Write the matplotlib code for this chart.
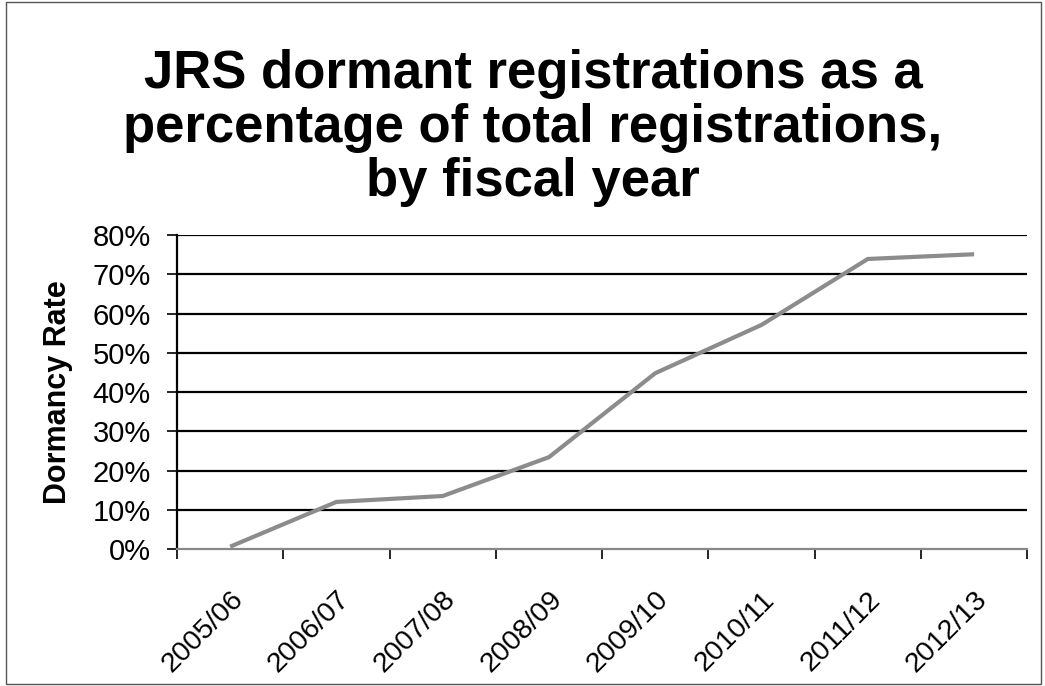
import numpy as np
import matplotlib.pyplot as plt
from matplotlib.patches import Rectangle

plt.rcParams['font.family'] = ['Liberation Sans', 'DejaVu Sans']

years = ['2005/06', '2006/07', '2007/08', '2008/09',
         '2009/10', '2010/11', '2011/12', '2012/13']
dormancy = [0.6, 12.0, 13.5, 23.4, 44.8, 57.1, 73.9, 75.1]

fig = plt.figure(figsize=(10.45, 6.86), dpi=100)
ax = fig.add_axes([0.1694, 0.1997, 0.8136, 0.4577])

x = np.arange(len(years))
ax.plot(x, dormancy, color='#8c8c8c', lw=3, solid_capstyle='butt')

ax.set_xlim(-0.5, len(years) - 0.5)
ax.set_ylim(0, 80)
ax.set_yticks(np.arange(0, 81, 10))
ax.set_yticklabels(['%d%%' % v for v in range(0, 81, 10)], fontsize=21)
for v in range(10, 81, 10):
    ax.axhline(v, color='black', lw=1.6, zorder=0)

ax.set_xticks(x)
ax.set_xticklabels(years, fontsize=20.5, rotation=45, ha='right',
                   rotation_mode='anchor')
ax.set_xticks(np.arange(-0.5, len(years)), minor=True)
ax.tick_params(axis='x', which='major', length=0, pad=27)
ax.tick_params(axis='x', which='minor', length=7, width=1.2, color='black',
               direction='out')
ax.tick_params(axis='y', length=7, width=1.2, direction='out', pad=12)

for s in ['top', 'right']:
    ax.spines[s].set_visible(False)
ax.spines['left'].set_linewidth(1.6)
ax.spines['bottom'].set_color('#888888')
ax.spines['bottom'].set_linewidth(1.6)

ax.set_ylabel('Dormancy Rate', fontsize=22, fontweight='bold', labelpad=14)

fig.text(0.51, 0.813, 'JRS dormant registrations as a\npercentage of total registrations,\nby fiscal year',
         ha='center', va='center', fontsize=38, fontweight='bold', linespacing=1.1)

fig.patches.append(Rectangle((0.006, 0.003), 0.99, 0.994, transform=fig.transFigure,
                             fill=False, edgecolor='#555555', lw=1))

fig.savefig('out.png', dpi=100)
